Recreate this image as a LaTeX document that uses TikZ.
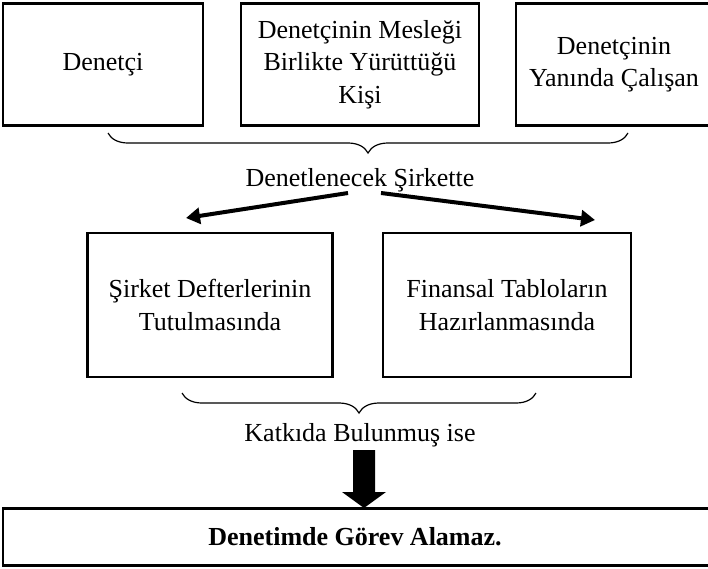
\documentclass[tikz,border=0pt]{standalone}
\usepackage{fontspec}
\setmainfont{Liberation Serif}
\usetikzlibrary{decorations.pathreplacing,arrows.meta}
\newcommand{\mysz}{\fontsize{26}{32.5}\selectfont}
\begin{document}
\begin{tikzpicture}[x=1pt,y=-1pt,
  box/.style={draw,line width=2.4pt,align=center,inner sep=0pt,font=\mysz},
  lbl/.style={align=center,inner sep=0pt,font=\mysz},
  brc/.style={decorate,decoration={brace,mirror,amplitude=20pt},line width=1.2pt},
  arr/.style={line width=4pt,-{Triangle[width=16pt,length=14pt]}}]
\useasboundingbox (0,0) rectangle (708,568);
\node[box,minimum width=200pt,minimum height=122pt] (b1) at (103,64.5) {Denetçi};
\node[box,minimum width=238pt,minimum height=122pt] (b2) at (360,64.5) {Denetçinin Mesleği\\Birlikte Yürüttüğü\\Kişi};
\node[box,minimum width=196pt,minimum height=122pt] (b3) at (614,64.5) {Denetçinin\\Yanında Çalışan};
\coordinate (br1a) at (108,133);
\coordinate (br1b) at (628,133);
\draw[brc] (br1a) -- (br1b);
\node[lbl] (t1) at (360,180) {Denetlenecek Şirkette};
\coordinate (a1s) at (348,193);
\coordinate (a1e) at (186,218);
\coordinate (a2s) at (381,193);
\coordinate (a2e) at (595,220);
\draw[arr] (a1s) -- (a1e);
\draw[arr] (a2s) -- (a2e);
\node[box,minimum width=245pt,minimum height=144pt] (b4) at (210,305) {Şirket Defterlerinin\\Tutulmasında};
\node[box,minimum width=248pt,minimum height=144pt] (b5) at (507,305) {Finansal Tabloların\\Hazırlanmasında};
\coordinate (br2a) at (182,393);
\coordinate (br2b) at (536,393);
\draw[brc] (br2a) -- (br2b);
\node[lbl] (t2) at (360,435) {Katkıda Bulunmuş ise};
\node[box,minimum width=710pt,minimum height=57pt,font=\mysz\bfseries] (b6) at (358,537) {\hspace*{-6pt}Denetimde Görev Alamaz.};
\fill (353,450) -- (375,450) -- (375,492) -- (386,492) -- (364,508) -- (342,492) -- (353,492) -- cycle;
\end{tikzpicture}
\end{document}
